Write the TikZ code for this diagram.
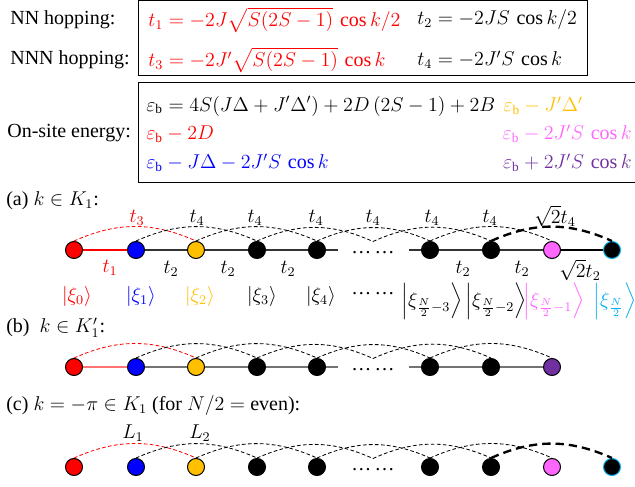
\documentclass[tikz,border=0pt]{standalone}
\usepackage{amsmath}
\usepackage{fontspec}
\setmainfont{Liberation Serif}
\usetikzlibrary{positioning}
\definecolor{siteyel}{HTML}{FFC000}
\definecolor{sitepink}{HTML}{FF66FF}
\definecolor{sitecyan}{HTML}{00B0F0}
\definecolor{sitepurple}{HTML}{7030A0}

\begin{document}
\begin{tikzpicture}[
  x=0.6pt,y=-0.6pt,
  font=\fontsize{12}{14}\selectfont,
  txt/.style={inner sep=0pt,anchor=west},
  hop/.style={inner sep=0pt},
  site/.style={circle,draw=black,line width=0.6pt,minimum size=10.2pt,inner sep=0pt},
  nn/.style={line width=0.7pt,black!80},
  nnthick/.style={line width=1.4pt,black},
  nnn/.style={dash pattern=on 2.2pt off 1.4pt,line width=0.5pt},
  nnnthick/.style={dash pattern=on 5pt off 3pt,line width=1.4pt},
  box/.style={line width=0.6pt},
]
\useasboundingbox (0,0) rectangle (635,487);

% ---------- TOP: hopping amplitudes ----------
\node[txt] (nnlab) at (10,20) {NN hopping:};
\node[txt] (nnnlab) at (10,60) {NNN hopping:};
\node[txt,text=red] (t1def) at (148,20) {$t_1=-2J\sqrt{S(2S-1)}\,\cos k/2$};
\node[txt] (t2def) at (417,20) {$t_2=-2JS\,\cos k/2$};
\node[txt,text=red] (t3def) at (148,60) {$t_3=-2J'\sqrt{S(2S-1)}\,\cos k$};
\node[txt] (t4def) at (417,60) {$t_4=-2J'S\,\cos k$};
\draw[box] (138,0.8) rectangle (587,76);

% ---------- on-site energies ----------
\node[txt] (onlab) at (7,133) {On-site energy:};
\node[txt] (eb) at (146,106) {$\varepsilon_{\mathrm{b}}=4S(J\Delta+J'\Delta')+2D\,(2S-1)+2B$};
\node[txt,text=siteyel] (ebyel) at (503,106) {$\varepsilon_{\mathrm{b}}-J'\Delta'$};
\node[txt,text=red] (ebred) at (146,134) {$\varepsilon_{\mathrm{b}}-2D$};
\node[txt,anchor=east,text=sitepink] (ebpink) at (632,134) {$\varepsilon_{\mathrm{b}}-2J'S\,\cos k$};
\node[txt,text=blue] (ebblue) at (146,163) {$\varepsilon_{\mathrm{b}}-J\Delta-2J'S\,\cos k$};
\node[txt,anchor=east,text=sitepurple] (ebpurple) at (632,163) {$\varepsilon_{\mathrm{b}}+2J'S\,\cos k$};
\draw[box] (640,83) -- (138,83) -- (138,182) -- (640,182);

% ---------- (a) k in K_1 ----------
\node[txt] (alab) at (6,201) {(a) $k\in K_1$:};
\foreach \i/\x/\c/\b in {0/74/red/black,1/136/blue/black,2/196/siteyel/black,
    3/257/black/black,4/317/black/black,5/430/black/black,6/491/black/black,
    7/552/sitepink/black,8/612/black/sitecyan}
  \node[site,fill=\c,draw=\b] (a\i) at (\x,250) {};
\coordinate (aph) at (373,241.5);
\coordinate (a4r) at (338,250);
\coordinate (a5l) at (409,250);
\node[inner sep=0pt,anchor=base] (adots) at (373,253) {\dots\,\dots};
% bonds
\draw[line width=0.7pt,red] (a0) -- (a1);
\draw[nn] (a1) -- (a2) -- (a3) -- (a4) -- (a4r);
\draw[nn] (a5l) -- (a5) -- (a6) -- (a7);
\draw[nnthick] (a7) -- (a8);
% next-nearest
\draw[nnn,red] (a0.north) to[bend left=24] (a2.north);
\foreach \s/\e in {a1.north/a3.north,a2.north/a4.north,a3.north/aph,
    a4.north/a5.north,aph/a6.north,a5.north/a7.north}
  \draw[nnn] (\s) to[bend left=24] (\e);
\draw[nnnthick] (a6.north) to[bend left=24] (a8.north);
% hopping labels
\node[hop,text=red] (lt3) at (137,218) {$t_3$};
\foreach \x [count=\n] in {197,255,316,373,432,490}
  \node[hop] (lt4\n) at (\x,218) {$t_4$};
\node[hop] (lt4end) at (555,216) {$\sqrt{2}t_4$};
\node[hop,text=red] (lt1) at (110,268) {$t_1$};
\foreach \x [count=\n] in {171,228,288,463,522}
  \node[hop] (lt2\n) at (\x,269) {$t_2$};
\node[hop] (lt2end) at (580,270) {$\sqrt{2}t_2$};
% states
\node[hop,text=red] (k0) at (77,296) {$|\xi_0\rangle$};
\node[hop,text=blue] (k1) at (141,296) {$|\xi_1\rangle$};
\node[hop,text=siteyel] (k2) at (200,296) {$|\xi_2\rangle$};
\node[hop] (k3) at (262,296) {$|\xi_3\rangle$};
\node[hop] (k4) at (321,296) {$|\xi_4\rangle$};
\node[inner sep=0pt,anchor=base] (kdots) at (373,294) {\dots\,\dots};
\node[hop] (k5) at (432,301) {$\Bigl|\xi_{\frac{N}{2}-3}\Bigr\rangle$};
\node[hop] (k6) at (496,301) {$\Bigl|\xi_{\frac{N}{2}-2}\Bigr\rangle$};
\node[hop,text=sitepink] (k7) at (554,301) {$\Bigl|\xi_{\frac{N}{2}-1}\Bigr\rangle$};
\node[hop,text=sitecyan] (k8) at (615,301) {$\Bigl|\xi_{\frac{N}{2}}\Bigr\rangle$};

% ---------- (b) k in K_1' ----------
\node[txt] (blab) at (6,328) {(b) \ $k\in K_1'$:};
\foreach \i/\x/\c in {0/74/red,1/136/blue,2/196/siteyel,3/257/black,
    4/317/black,5/430/black,6/491/black,7/552/sitepurple}
  \node[site,fill=\c] (b\i) at (\x,367) {};
\coordinate (bph) at (373,358.5);
\coordinate (b4r) at (338,367);
\coordinate (b5l) at (409,367);
\node[inner sep=0pt,anchor=base] (bdots) at (373,370) {\dots\,\dots};
\draw[line width=0.7pt,red!55] (b0) -- (b1);
\draw[line width=0.7pt,black!55] (b1) -- (b2) -- (b3) -- (b4) -- (b4r);
\draw[line width=0.7pt,black!55] (b5l) -- (b5) -- (b6) -- (b7);
\draw[nnn,red] (b0.north) to[bend left=24] (b2.north);
\foreach \s/\e in {b1.north/b3.north,b2.north/b4.north,b3.north/bph,
    b4.north/b5.north,bph/b6.north,b5.north/b7.north}
  \draw[nnn] (\s) to[bend left=24] (\e);

% ---------- (c) k = -pi ----------
\node[txt] (clab) at (6,405) {(c) $k=-\pi\in K_1$ (for $N/2=$ even):};
\foreach \i/\x/\c/\b in {0/74/red/black,1/136/blue/black,2/196/siteyel/black,
    3/257/black/black,4/317/black/black,5/430/black/black,6/491/black/black,
    7/552/sitepink/black,8/612/black/sitecyan}
  \node[site,fill=\c,draw=\b] (c\i) at (\x,467) {};
\coordinate (cph) at (373,458.5);
\node[inner sep=0pt,anchor=base] (cdots) at (373,470) {\dots\,\dots};
\draw[nnn,red] (c0.north) to[bend left=24] (c2.north);
\foreach \s/\e in {c1.north/c3.north,c2.north/c4.north,c3.north/cph,
    c4.north/c5.north,cph/c6.north,c5.north/c7.north}
  \draw[nnn] (\s) to[bend left=24] (\e);
\draw[nnnthick] (c6.north) to[bend left=24] (c8.north);
\node[hop] (lL1) at (133,433) {$L_1$};
\node[hop] (lL2) at (200,433) {$L_2$};

\end{tikzpicture}
\end{document}
